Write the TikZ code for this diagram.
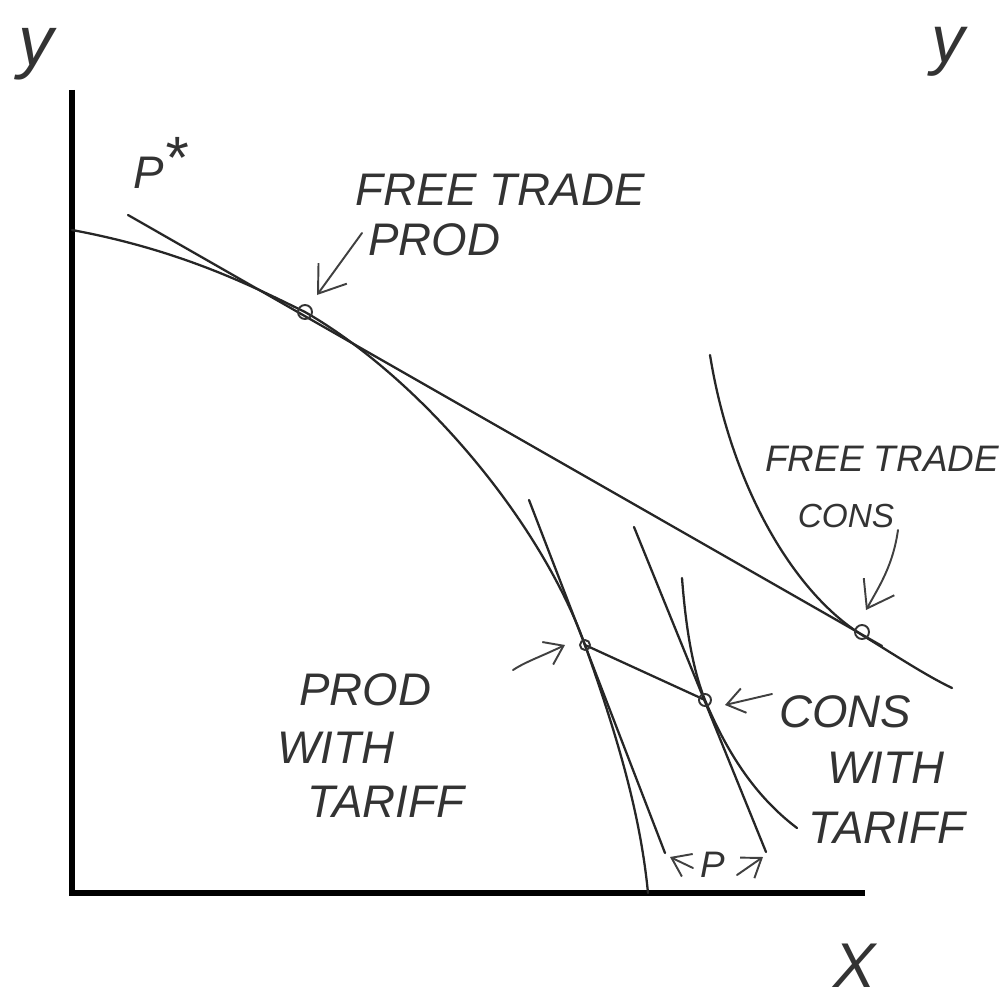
\documentclass[tikz,border=0pt]{standalone}
\usepackage{fontspec}
\setmainfont{Liberation Sans}
\usetikzlibrary{
    arrows.meta,
    calc
}

\begin{document}
\begin{tikzpicture}[
    x=0.02cm,
    y=-0.02cm,
    axis/.style={
        line width=3.4pt,
        black
    },
    curve/.style={
        line width=1.3pt,
        black!85,
        line cap=round
    },
    pointer/.style={
        -{Straight Barb[length=5mm,width=7mm]},
        line width=1.1pt,
        black!75,
        line cap=round
    },
    smallpointer/.style={
        -{Straight Barb[length=3.5mm,width=5mm]},
        line width=1.1pt,
        black!75,
        line cap=round
    },
    hand/.style={
        font=\itshape\fontsize{26}{28}\selectfont,
        text=black!80,
        inner sep=0pt
    },
    smallhand/.style={
        font=\itshape\fontsize{21}{23}\selectfont,
        text=black!80,
        inner sep=0pt
    },
    ring/.style={
        line width=1.1pt,
        black!80
    }
]

\useasboundingbox (0,0) rectangle (998,1007);

% =========================================================
% Axes
% =========================================================
\coordinate (origin) at (72,893);
\coordinate (ytop) at (72,90);
\coordinate (xend) at (865,893);

\draw[axis] (ytop) -- (origin) -- (xend);

\node[hand, font=\itshape\fontsize{40}{42}\selectfont] (ylabel) at (36,54) {y};
\node[hand, font=\itshape\fontsize{38}{40}\selectfont] (yright) at (948,52) {y};
\node[hand, font=\itshape\fontsize{36}{38}\selectfont] (xlabel) at (855,966) {X};

% =========================================================
% Key points
% =========================================================
\coordinate (ftprod) at (305,312);
\coordinate (ftcons) at (862,635);
\coordinate (tprod) at (585,645);
\coordinate (tcons) at (705,700);

% =========================================================
% Production possibility frontier
% =========================================================
\draw[curve] (72,230) .. controls (180,250) and (250,285) .. (ftprod)
    .. controls (420,378) and (540,520) .. (tprod)
    .. controls (615,730) and (640,810) .. (648,893);

% =========================================================
% Indifference curves
% =========================================================
\draw[curve] (710,355) .. controls (730,480) and (790,590) .. (ftcons)
    .. controls (895,655) and (925,675) .. (952,688);

\draw[curve] (682,578) .. controls (686,630) and (693,670) .. (tcons)
    .. controls (730,760) and (760,800) .. (797,828);

% =========================================================
% Price lines
% =========================================================
\coordinate (pstarstart) at (128,215);
\coordinate (pstarend) at (882,646);
\draw[curve] (pstarstart) -- (pstarend);

\coordinate (tprodtop) at (529,500);
\coordinate (tprodbot) at (665,853);
\draw[curve] (tprodtop) -- (tprodbot);

\coordinate (tconstop) at (634,527);
\coordinate (tconsbot) at (766,852);
\draw[curve] (tconstop) -- (tconsbot);

\draw[curve] (tprod) -- (tcons);

% small circles at the points
\draw[ring] (ftprod) circle (7);
\draw[ring] ($(ftcons)+(0,-3)$) circle (7);
\draw[ring] (tprod) circle (5);
\draw[ring] (tcons) circle (6);

% =========================================================
% Labels
% =========================================================
\node[hand] (pstar) at (160,163) {P\raisebox{0.45ex}{\fontsize{34}{36}\selectfont *}};

\node[hand, anchor=west] (ftprodtop) at (355,190) {FREE TRADE};
\node[hand, anchor=west] (ftprodlbl) at (368,240) {PROD};
\draw[pointer] (362,233) -- (317,295);

\node[smallhand, anchor=west] (ftconstop) at (765,459) {FREE TRADE};
\node[smallhand, font=\itshape\fontsize{19}{21}\selectfont] (ftconslbl) at (846,516) {CONS};
\draw[pointer] (898,530) .. controls (893,565) and (880,585) .. (866,610);

\node[hand] (tprodlbl) at (365,690) {PROD};
\node[hand] (tprodwith) at (336,748) {WITH};
\node[hand] (tprodtariff) at (386,802) {TARIFF};
\draw[smallpointer] (513,670) .. controls (525,662) and (540,657) .. (565,645);

\node[hand] (tconslbl) at (845,712) {CONS};
\node[hand] (tconswith) at (886,768) {WITH};
\node[hand] (tconstariff) at (887,828) {TARIFF};
\draw[smallpointer] (772,694) -- (725,705);

\node[smallhand] (plbl) at (713,865) {P};
\draw[smallpointer] (693,868) -- (670,857);
\draw[smallpointer] (737,875) -- (763,857);

\end{tikzpicture}
\end{document}
